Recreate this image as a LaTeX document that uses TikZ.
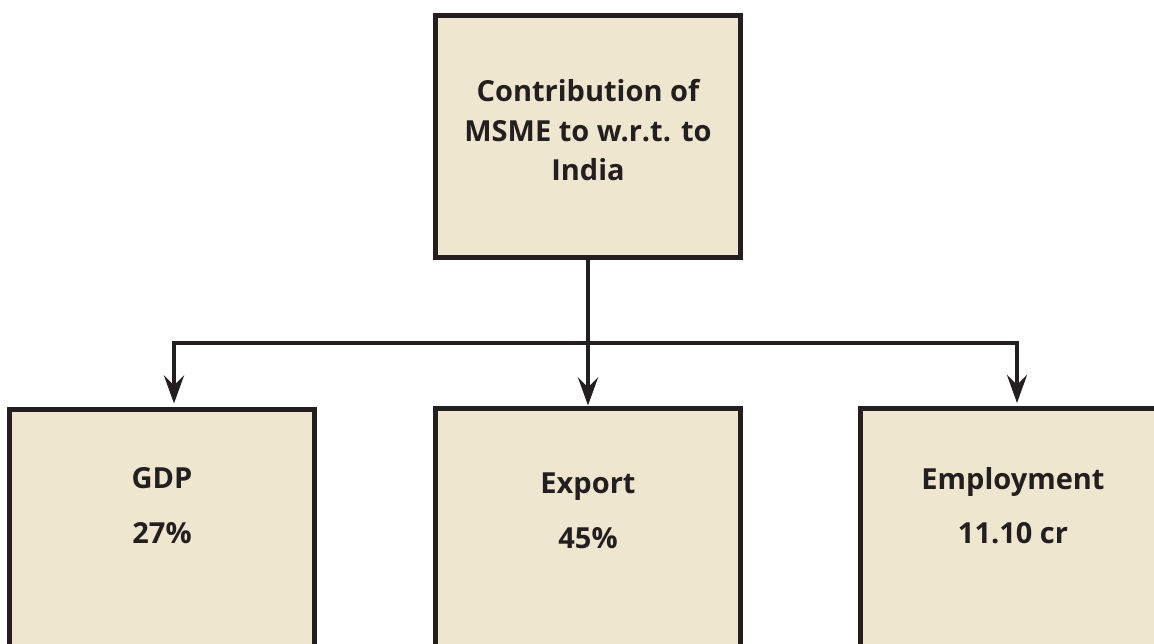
\documentclass[tikz,border=0pt]{standalone}
\usepackage{fontspec}
\setmainfont{Open Sans}
\usetikzlibrary{arrows.meta}
\definecolor{boxfill}{HTML}{EFE6CF}
\definecolor{ink}{HTML}{231F20}
\tikzset{
  box/.style={draw=ink, fill=boxfill, line width=5pt, minimum width=305pt, inner sep=0pt},
  lbl/.style={text=ink, font=\bfseries\fontsize{29}{39.5}\selectfont, inner sep=0pt, align=center},
  conn/.style={draw=ink, line width=4.4pt, -{Stealth[length=28pt,width=20pt,inset=10pt]}},
  plain/.style={draw=ink, line width=4.4pt}
}
\begin{document}
\begin{tikzpicture}[x=1pt,y=-1pt]
\useasboundingbox (0,0) rectangle (1154,644);
\clip (0,0) rectangle (1154,644);
\fill[white] (0,0) rectangle (1154,644);
% boxes
\node[box, minimum height=242pt] (top) at (588,136.5) {};
\node[box, minimum height=300pt, anchor=north] (gdp) at (162,406.5) {};
\node[box, minimum height=300pt, anchor=north] (exp) at (588,405.5) {};
\node[box, minimum height=300pt, anchor=north] (emp) at (1013,405.5) {};
% texts
\node[lbl] (toptext) at (588,130.5) {Contribution of\\MSME to w.r.t. to\\India};
\node[lbl, anchor=base] (gdpa) at (162,488) {GDP};
\node[lbl, anchor=base] (gdpb) at (162,543) {27\%};
\node[lbl, anchor=base] (expa) at (588,493) {Export};
\node[lbl, anchor=base] (expb) at (588,548) {45\%};
\node[lbl, anchor=base] (empa) at (1013,489) {Employment};
\node[lbl, anchor=base] (empb) at (1013,543) {11.10 cr};
% connectors
\coordinate (j) at (588,343);
\coordinate (gdpin) at (174,403.5);
\coordinate (empin) at (1017,403);
\draw[plain] (top.south) -- (j);
\draw[conn] (j) -- (exp.north);
\draw[conn] (j) -| (gdpin);
\draw[conn] (j) -| (empin);
\end{tikzpicture}
\end{document}
